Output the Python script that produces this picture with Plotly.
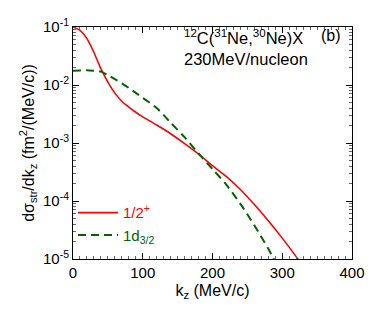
import plotly.graph_objects as go

# k_z (MeV/c) and d sigma_str / dk_z (fm^2/(MeV/c))
k_half = [0, 10, 20, 30, 40, 50, 60, 70, 80, 90, 100, 120, 140, 160, 180,
          200, 220, 240, 260, 280, 300, 320, 326]
sig_half = [0.1, 0.0871, 0.0631, 0.0363, 0.0191, 0.0112, 0.00724, 0.00525, 0.00417,
            0.00339, 0.00282, 0.00204, 0.001445, 0.000977, 0.000646, 0.000407,
            0.000263, 0.000158, 8.7e-5, 4.57e-5, 2.29e-5, 1.1e-5, 8.7e-6]

k_d32 = [0, 10, 20, 30, 40, 50, 60, 70, 80, 90, 100, 120, 140, 160, 180,
         200, 220, 240, 260, 280, 290]
sig_d32 = [0.01766, 0.0178, 0.0180, 0.0176, 0.0170, 0.0148, 0.0126, 0.0107,
           0.0089, 0.0073, 0.0060, 0.0040, 0.00224, 0.00126, 0.00066,
           0.000355, 0.00019, 8.9e-5, 3.8e-5, 1.5e-5, 8.9e-6]

ytick_vals = [1e-5, 1e-4, 1e-3, 1e-2, 1e-1]
ytick_text = ["10<sup>-5</sup>", "10<sup>-4</sup>", "10<sup>-3</sup>",
              "10<sup>-2</sup>", "10<sup>-1</sup>"]
yminor = [m * 10.0 ** e for e in range(-5, -1) for m in range(2, 10)]

FONT = "Liberation Sans, Arial, sans-serif"

fig = go.Figure()
fig.add_trace(go.Scatter(x=k_half, y=sig_half, mode="lines", line_shape="spline",
                         line=dict(color="#ff0000", width=1.6, smoothing=0.8),
                         name="<span style='color:#ff0000'>1/2<sup>+</sup></span>"))
fig.add_trace(go.Scatter(x=k_d32, y=sig_d32, mode="lines", line_shape="spline",
                         line=dict(color="#006400", width=2, dash="8px,5px", smoothing=0.8),
                         name="<span style='color:#006400'>1d<sub>3/2</sub></span>"))

fig.update_layout(
    width=374, height=320,
    margin=dict(l=65, r=30, t=19, b=69),
    paper_bgcolor="white", plot_bgcolor="white",
    font=dict(family=FONT, size=15, color="black"),
    showlegend=True,
    legend=dict(x=0.0, y=0.27, xanchor="left", yanchor="top",
                bgcolor="rgba(0,0,0,0)", font=dict(size=15),
                itemwidth=40, tracegroupgap=0),
)
fig.update_xaxes(
    range=[0, 400], tickvals=[0, 100, 200, 300, 400], automargin=False,
    showline=True, linecolor="black", linewidth=1, mirror="allticks",
    ticks="inside", ticklen=6, tickcolor="black", showgrid=False, zeroline=False,
    minor=dict(dtick=10, ticks="inside", ticklen=3, tickcolor="#666", showgrid=False),
    title=dict(text="k<sub>z</sub> (MeV/c)", standoff=4, font=dict(size=16)),
)
fig.update_yaxes(
    type="log", range=[-5, -1], tickvals=ytick_vals, ticktext=ytick_text, automargin=False,
    showline=True, linecolor="black", linewidth=1, mirror="allticks",
    ticks="inside", ticklen=6, tickcolor="black", showgrid=False, zeroline=False,
    minor=dict(tickvals=yminor, ticks="inside", ticklen=3, tickcolor="#666", showgrid=False),
    title=dict(text="dσ<sub>str</sub>/dk<sub>z</sub> (fm<sup>2</sup>/(MeV/c))", standoff=4,
               font=dict(size=16)),
)

fig.add_annotation(xref="paper", yref="paper", x=0.39, y=1.01, xanchor="left", yanchor="top",
                   showarrow=False, font=dict(size=16.5),
                   text="<sup>12</sup>C(<sup>31</sup>Ne,<sup>30</sup>Ne)X")
fig.add_annotation(xref="paper", yref="paper", x=0.39, y=0.91, xanchor="left", yanchor="top",
                   showarrow=False, font=dict(size=16.5), text="230MeV/nucleon")
fig.add_annotation(xref="paper", yref="paper", x=0.967, y=1.01, xanchor="right", yanchor="top",
                   showarrow=False, font=dict(size=16), text="(b)")

fig.write_html("out.html")
